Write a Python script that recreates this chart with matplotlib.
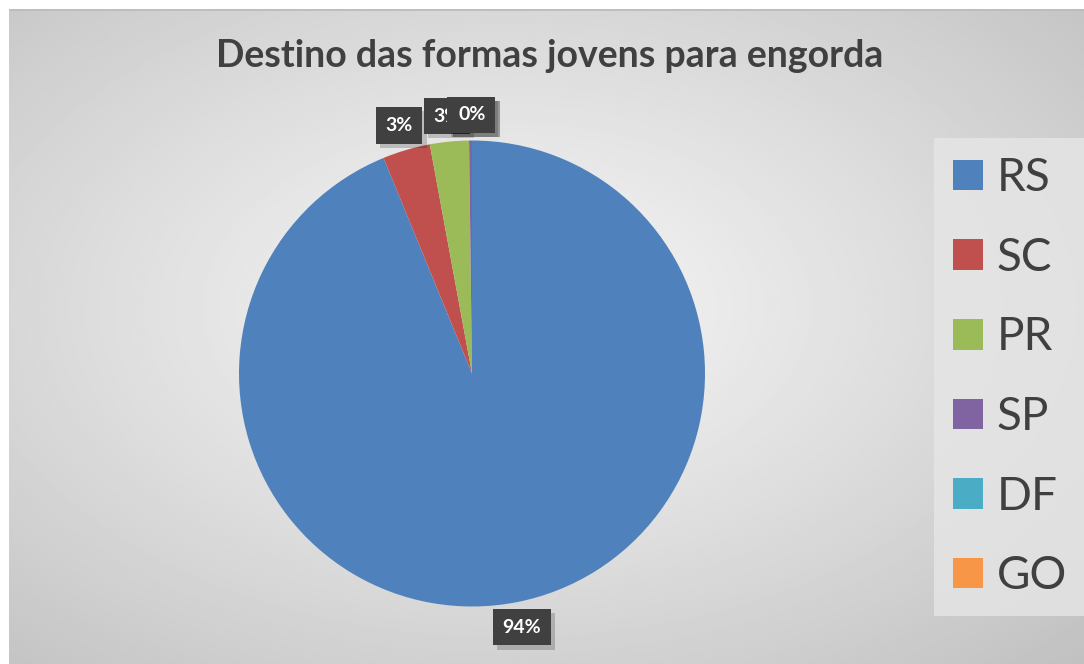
#!/usr/bin/env python3
import numpy as np
import matplotlib
matplotlib.use('Agg')
import matplotlib.pyplot as plt
import matplotlib.patheffects as pe
from matplotlib.patches import Patch

# dados do gráfico
estados = ['RS', 'SC', 'PR', 'SP', 'DF', 'GO']
percentuais = [93.8, 3.3, 2.7, 0.2, 0.0, 0.0]
cores = ['#4f81bd', '#c0504d', '#9bbb59', '#8064a2', '#4bacc6', '#f79646']
titulo = 'Destino das formas jovens para engorda'

plt.rcParams['font.family'] = ['Lato', 'DejaVu Sans']

W, H = 1084, 664
fig = plt.figure(figsize=(W / 100, H / 100), dpi=100)
fig.patch.set_facecolor('white')

# fundo com gradiente radial (área do gráfico)
bg = fig.add_axes([9 / W, 0, (W - 9) / W, (H - 9) / H])
bg.set_axis_off()
yy, xx = np.mgrid[0:330, 0:540]
cx, cy = 250, 150
d = np.sqrt(((xx - cx) / 540) ** 2 + ((yy - cy) / 330) ** 2)
d = d / d.max()
img = 0.965 - 0.21 * d ** 1.1
bg.imshow(img, cmap='gray', vmin=0, vmax=1, aspect='auto', extent=[0, 1, 0, 1],
          origin='upper', interpolation='bilinear')
bg.set_xlim(0, 1)
bg.set_ylim(0, 1)
bg.axhline(1, color='#bdbdbd', lw=2)

# pizza
cx_px, cy_px, r_px = 472, 373.5, 233
ax = fig.add_axes([(cx_px - r_px) / W, (H - cy_px - r_px) / H, 2 * r_px / W, 2 * r_px / H])
wedges, _ = ax.pie(percentuais, colors=cores, startangle=90, counterclock=False, radius=1)
ax.set_xlim(-1, 1)
ax.set_ylim(-1, 1)
ax.set_aspect('equal')
ax.set_axis_off()

# rótulos com caixa escura (os de valor nulo ficam empilhados sob o de SP, como no Excel)
sombra = [pe.SimplePatchShadow(offset=(3, -3), shadow_rgbFace='black', alpha=0.18), pe.Normal()]
for w, p in zip(wedges, percentuais):
    ang = np.deg2rad((w.theta1 + w.theta2) / 2)
    rr = 1.11
    x, y = rr * np.cos(ang), rr * np.sin(ang)
    t = ax.text(x, y, f'{p:.0f}%', ha='center', va='center', fontsize=14, fontweight='bold',
                color='white', bbox=dict(boxstyle='square,pad=0.5', fc='#404040', ec='none'))
    t.get_bbox_patch().set_path_effects(sombra)

# título
fig.text(550 / W, 1 - 56 / H, titulo, ha='center', va='center', fontsize=27,
         fontweight='bold', color='#404040')

# legenda
handles = [Patch(facecolor=c, edgecolor='none') for c in cores]
leg = fig.legend(handles, estados, loc='upper left', bbox_to_anchor=(934 / W, 1 - 138 / H),
                 fontsize=33, frameon=True, fancybox=False, handlelength=0.65, handleheight=0.65,
                 handletextpad=0.3, labelspacing=0.82, borderpad=0.42, borderaxespad=0)
leg.get_frame().set_facecolor('#e6e6e6')
leg.get_frame().set_edgecolor('none')
leg.get_frame().set_alpha(0.8)
for t in leg.get_texts():
    t.set_color('#404040')

fig.savefig('out.png', dpi=100)
